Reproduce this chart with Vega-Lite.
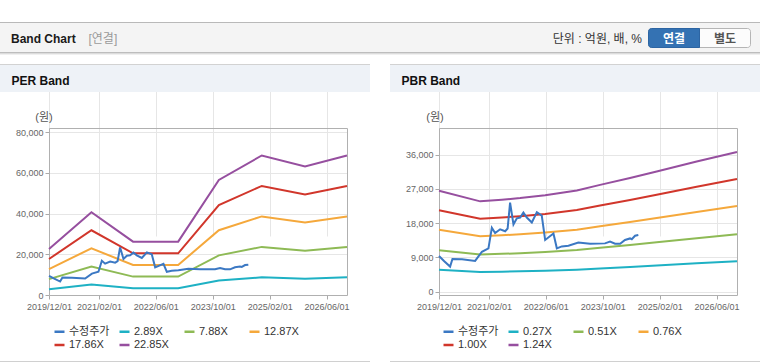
{
  "$schema": "https://vega.github.io/schema/vega-lite/v6.json",
  "width": 760,
  "height": 364,
  "autosize": {"type": "none"},
  "padding": 0,
  "background": "#ffffff",
  "config": {"view": {"stroke": null}, "font": "Liberation Sans, Noto Sans CJK KR"},
  "datasets": {
    "price": [
      {"d": "2019-12-01", "s": "수정주가", "v": 9400},
      {"d": "2020-01-15", "s": "수정주가", "v": 8000},
      {"d": "2020-03-05", "s": "수정주가", "v": 6600},
      {"d": "2020-03-25", "s": "수정주가", "v": 8600},
      {"d": "2020-06-15", "s": "수정주가", "v": 8500},
      {"d": "2020-10-05", "s": "수정주가", "v": 8100},
      {"d": "2020-12-02", "s": "수정주가", "v": 10500},
      {"d": "2021-01-27", "s": "수정주가", "v": 11400},
      {"d": "2021-02-25", "s": "수정주가", "v": 16800},
      {"d": "2021-03-25", "s": "수정주가", "v": 15400},
      {"d": "2021-05-07", "s": "수정주가", "v": 16400},
      {"d": "2021-06-19", "s": "수정주가", "v": 15900},
      {"d": "2021-07-10", "s": "수정주가", "v": 16600},
      {"d": "2021-07-31", "s": "수정주가", "v": 23400},
      {"d": "2021-08-29", "s": "수정주가", "v": 17700},
      {"d": "2021-09-27", "s": "수정주가", "v": 19300},
      {"d": "2021-10-25", "s": "수정주가", "v": 19500},
      {"d": "2021-11-22", "s": "수정주가", "v": 20800},
      {"d": "2021-12-21", "s": "수정주가", "v": 19500},
      {"d": "2022-02-02", "s": "수정주가", "v": 18200},
      {"d": "2022-03-17", "s": "수정주가", "v": 20900},
      {"d": "2022-04-28", "s": "수정주가", "v": 20000},
      {"d": "2022-05-27", "s": "수정주가", "v": 13600},
      {"d": "2022-08-06", "s": "수정주가", "v": 15300},
      {"d": "2022-09-04", "s": "수정주가", "v": 11400},
      {"d": "2022-10-16", "s": "수정주가", "v": 11900},
      {"d": "2022-12-12", "s": "수정주가", "v": 12100},
      {"d": "2023-03-07", "s": "수정주가", "v": 12900},
      {"d": "2023-06-15", "s": "수정주가", "v": 12600},
      {"d": "2023-10-21", "s": "수정주가", "v": 12700},
      {"d": "2023-12-03", "s": "수정주가", "v": 13200},
      {"d": "2024-01-15", "s": "수정주가", "v": 12600},
      {"d": "2024-02-27", "s": "수정주가", "v": 12600},
      {"d": "2024-04-09", "s": "수정주가", "v": 13600},
      {"d": "2024-05-22", "s": "수정주가", "v": 14000},
      {"d": "2024-06-06", "s": "수정주가", "v": 13800},
      {"d": "2024-07-04", "s": "수정주가", "v": 14700},
      {"d": "2024-08-01", "s": "수정주가", "v": 14900}
    ],
    "per": [
      {"d": "2019-12-01", "s": "2.89X", "v": 2861},
      {"d": "2020-11-28", "s": "2.89X", "v": 5144},
      {"d": "2021-11-19", "s": "2.89X", "v": 3312},
      {"d": "2022-12-10", "s": "2.89X", "v": 3312},
      {"d": "2023-11-23", "s": "2.89X", "v": 7144},
      {"d": "2024-11-24", "s": "2.89X", "v": 8664},
      {"d": "2025-11-29", "s": "2.89X", "v": 7982},
      {"d": "2026-11-23", "s": "2.89X", "v": 8664},
      {"d": "2019-12-01", "s": "7.88X", "v": 7801},
      {"d": "2020-11-28", "s": "7.88X", "v": 14026},
      {"d": "2021-11-19", "s": "7.88X", "v": 9030},
      {"d": "2022-12-10", "s": "7.88X", "v": 9030},
      {"d": "2023-11-23", "s": "7.88X", "v": 19479},
      {"d": "2024-11-24", "s": "7.88X", "v": 23624},
      {"d": "2025-11-29", "s": "7.88X", "v": 21765},
      {"d": "2026-11-23", "s": "7.88X", "v": 23624},
      {"d": "2019-12-01", "s": "12.87X", "v": 12741},
      {"d": "2020-11-28", "s": "12.87X", "v": 22909},
      {"d": "2021-11-19", "s": "12.87X", "v": 14749},
      {"d": "2022-12-10", "s": "12.87X", "v": 14749},
      {"d": "2023-11-23", "s": "12.87X", "v": 31815},
      {"d": "2024-11-24", "s": "12.87X", "v": 38584},
      {"d": "2025-11-29", "s": "12.87X", "v": 35547},
      {"d": "2026-11-23", "s": "12.87X", "v": 38584},
      {"d": "2019-12-01", "s": "17.86X", "v": 17681},
      {"d": "2020-11-28", "s": "17.86X", "v": 31791},
      {"d": "2021-11-19", "s": "17.86X", "v": 20468},
      {"d": "2022-12-10", "s": "17.86X", "v": 20468},
      {"d": "2023-11-23", "s": "17.86X", "v": 44150},
      {"d": "2024-11-24", "s": "17.86X", "v": 53544},
      {"d": "2025-11-29", "s": "17.86X", "v": 49329},
      {"d": "2026-11-23", "s": "17.86X", "v": 53544},
      {"d": "2019-12-01", "s": "22.85X", "v": 22622},
      {"d": "2020-11-28", "s": "22.85X", "v": 40673},
      {"d": "2021-11-19", "s": "22.85X", "v": 26186},
      {"d": "2022-12-10", "s": "22.85X", "v": 26186},
      {"d": "2023-11-23", "s": "22.85X", "v": 56485},
      {"d": "2024-11-24", "s": "22.85X", "v": 68504},
      {"d": "2025-11-29", "s": "22.85X", "v": 63112},
      {"d": "2026-11-23", "s": "22.85X", "v": 68504}
    ],
    "pbr": [
      {"d": "2019-12-01", "s": "0.27X", "v": 5778},
      {"d": "2020-11-17", "s": "0.27X", "v": 5171},
      {"d": "2021-05-22", "s": "0.27X", "v": 5265},
      {"d": "2021-10-25", "s": "0.27X", "v": 5360},
      {"d": "2022-05-27", "s": "0.27X", "v": 5522},
      {"d": "2023-02-22", "s": "0.27X", "v": 5792},
      {"d": "2023-09-09", "s": "0.27X", "v": 6116},
      {"d": "2024-05-22", "s": "0.27X", "v": 6507},
      {"d": "2025-01-05", "s": "0.27X", "v": 6885},
      {"d": "2025-12-13", "s": "0.27X", "v": 7452},
      {"d": "2026-11-23", "s": "0.27X", "v": 7992},
      {"d": "2019-12-01", "s": "0.51X", "v": 10914},
      {"d": "2020-11-17", "s": "0.51X", "v": 9767},
      {"d": "2021-05-22", "s": "0.51X", "v": 9945},
      {"d": "2021-10-25", "s": "0.51X", "v": 10124},
      {"d": "2022-05-27", "s": "0.51X", "v": 10430},
      {"d": "2023-02-22", "s": "0.51X", "v": 10940},
      {"d": "2023-09-09", "s": "0.51X", "v": 11552},
      {"d": "2024-05-22", "s": "0.51X", "v": 12291},
      {"d": "2025-01-05", "s": "0.51X", "v": 13005},
      {"d": "2025-12-13", "s": "0.51X", "v": 14076},
      {"d": "2026-11-23", "s": "0.51X", "v": 15096},
      {"d": "2019-12-01", "s": "0.76X", "v": 16264},
      {"d": "2020-11-17", "s": "0.76X", "v": 14554},
      {"d": "2021-05-22", "s": "0.76X", "v": 14820},
      {"d": "2021-10-25", "s": "0.76X", "v": 15086},
      {"d": "2022-05-27", "s": "0.76X", "v": 15542},
      {"d": "2023-02-22", "s": "0.76X", "v": 16302},
      {"d": "2023-09-09", "s": "0.76X", "v": 17214},
      {"d": "2024-05-22", "s": "0.76X", "v": 18316},
      {"d": "2025-01-05", "s": "0.76X", "v": 19380},
      {"d": "2025-12-13", "s": "0.76X", "v": 20976},
      {"d": "2026-11-23", "s": "0.76X", "v": 22496},
      {"d": "2019-12-01", "s": "1.00X", "v": 21400},
      {"d": "2020-11-17", "s": "1.00X", "v": 19150},
      {"d": "2021-05-22", "s": "1.00X", "v": 19500},
      {"d": "2021-10-25", "s": "1.00X", "v": 19850},
      {"d": "2022-05-27", "s": "1.00X", "v": 20450},
      {"d": "2023-02-22", "s": "1.00X", "v": 21450},
      {"d": "2023-09-09", "s": "1.00X", "v": 22650},
      {"d": "2024-05-22", "s": "1.00X", "v": 24100},
      {"d": "2025-01-05", "s": "1.00X", "v": 25500},
      {"d": "2025-12-13", "s": "1.00X", "v": 27600},
      {"d": "2026-11-23", "s": "1.00X", "v": 29600},
      {"d": "2019-12-01", "s": "1.24X", "v": 26536},
      {"d": "2020-11-17", "s": "1.24X", "v": 23746},
      {"d": "2021-05-22", "s": "1.24X", "v": 24180},
      {"d": "2021-10-25", "s": "1.24X", "v": 24614},
      {"d": "2022-05-27", "s": "1.24X", "v": 25358},
      {"d": "2023-02-22", "s": "1.24X", "v": 26598},
      {"d": "2023-09-09", "s": "1.24X", "v": 28086},
      {"d": "2024-05-22", "s": "1.24X", "v": 29884},
      {"d": "2025-01-05", "s": "1.24X", "v": 31620},
      {"d": "2025-12-13", "s": "1.24X", "v": 34224},
      {"d": "2026-11-23", "s": "1.24X", "v": 36704}
    ]
  },
  "layer": [
    {
      "data": {"values": [{}]},
      "layer": [
        {"mark": {"type": "rect", "fill": "#f4f4f4"},
         "encoding": {"x": {"datum": 0, "type": "quantitative", "scale": {"domain": [0, 760], "range": [0, 760], "nice": false, "zero": false}, "axis": null}, "x2": {"datum": 760},
                      "y": {"datum": 22, "type": "quantitative", "scale": {"domain": [0, 364], "range": [0, 364], "nice": false, "zero": false}, "axis": null}, "y2": {"datum": 53}}},
        {"mark": {"type": "rule", "stroke": "#b9b9b9", "strokeWidth": 1},
         "encoding": {"x": {"datum": 0, "type": "quantitative", "scale": {"domain": [0, 760], "range": [0, 760], "nice": false, "zero": false}, "axis": null}, "x2": {"datum": 760},
                      "y": {"datum": 22.5, "type": "quantitative", "scale": {"domain": [0, 364], "range": [0, 364], "nice": false, "zero": false}, "axis": null}}},
        {"mark": {"type": "rule", "stroke": "#bdbdbd", "strokeWidth": 1},
         "encoding": {"x": {"datum": 0, "type": "quantitative", "scale": {"domain": [0, 760], "range": [0, 760], "nice": false, "zero": false}, "axis": null}, "x2": {"datum": 760},
                      "y": {"datum": 52.5, "type": "quantitative", "scale": {"domain": [0, 364], "range": [0, 364], "nice": false, "zero": false}, "axis": null}}},
        {"mark": {"type": "rule", "stroke": "#dcdcdc", "strokeWidth": 1},
         "encoding": {"x": {"datum": 0, "type": "quantitative", "scale": {"domain": [0, 760], "range": [0, 760], "nice": false, "zero": false}, "axis": null}, "x2": {"datum": 760},
                      "y": {"datum": 53.5, "type": "quantitative", "scale": {"domain": [0, 364], "range": [0, 364], "nice": false, "zero": false}, "axis": null}}},
        {"mark": {"type": "rule", "stroke": "#f0f0f0", "strokeWidth": 1},
         "encoding": {"x": {"datum": 0, "type": "quantitative", "scale": {"domain": [0, 760], "range": [0, 760], "nice": false, "zero": false}, "axis": null}, "x2": {"datum": 760},
                      "y": {"datum": 54.5, "type": "quantitative", "scale": {"domain": [0, 364], "range": [0, 364], "nice": false, "zero": false}, "axis": null}}},
        {"mark": {"type": "rect", "fill": "#fcfcfc", "stroke": "#b5b5b5", "strokeWidth": 1, "cornerRadius": 3},
         "encoding": {"x": {"datum": 648.5, "type": "quantitative", "scale": {"domain": [0, 760], "range": [0, 760], "nice": false, "zero": false}, "axis": null}, "x2": {"datum": 750.5},
                      "y": {"datum": 28.5, "type": "quantitative", "scale": {"domain": [0, 364], "range": [0, 364], "nice": false, "zero": false}, "axis": null}, "y2": {"datum": 47.5}}},
        {"mark": {"type": "rect", "fill": "#3472b3", "stroke": "#2d65a3", "strokeWidth": 1, "cornerRadiusTopLeft": 3, "cornerRadiusBottomLeft": 3},
         "encoding": {"x": {"datum": 648.5, "type": "quantitative", "scale": {"domain": [0, 760], "range": [0, 760], "nice": false, "zero": false}, "axis": null}, "x2": {"datum": 699.5},
                      "y": {"datum": 28.5, "type": "quantitative", "scale": {"domain": [0, 364], "range": [0, 364], "nice": false, "zero": false}, "axis": null}, "y2": {"datum": 47.5}}},
        {"mark": {"type": "rect", "fill": "#eef2f7"},
         "encoding": {"x": {"datum": 0, "type": "quantitative", "scale": {"domain": [0, 760], "range": [0, 760], "nice": false, "zero": false}, "axis": null}, "x2": {"datum": 370},
                      "y": {"datum": 64, "type": "quantitative", "scale": {"domain": [0, 364], "range": [0, 364], "nice": false, "zero": false}, "axis": null}, "y2": {"datum": 92}}},
        {"mark": {"type": "rect", "fill": "#eef2f7"},
         "encoding": {"x": {"datum": 390, "type": "quantitative", "scale": {"domain": [0, 760], "range": [0, 760], "nice": false, "zero": false}, "axis": null}, "x2": {"datum": 760},
                      "y": {"datum": 64, "type": "quantitative", "scale": {"domain": [0, 364], "range": [0, 364], "nice": false, "zero": false}, "axis": null}, "y2": {"datum": 92}}},
        {"mark": {"type": "rule", "stroke": "#d2d2d2", "strokeWidth": 1},
         "encoding": {"x": {"datum": 0, "type": "quantitative", "scale": {"domain": [0, 760], "range": [0, 760], "nice": false, "zero": false}, "axis": null}, "x2": {"datum": 370},
                      "y": {"datum": 64.5, "type": "quantitative", "scale": {"domain": [0, 364], "range": [0, 364], "nice": false, "zero": false}, "axis": null}}},
        {"mark": {"type": "rule", "stroke": "#d2d2d2", "strokeWidth": 1},
         "encoding": {"x": {"datum": 390, "type": "quantitative", "scale": {"domain": [0, 760], "range": [0, 760], "nice": false, "zero": false}, "axis": null}, "x2": {"datum": 760},
                      "y": {"datum": 64.5, "type": "quantitative", "scale": {"domain": [0, 364], "range": [0, 364], "nice": false, "zero": false}, "axis": null}}},
        {"mark": {"type": "rule", "stroke": "#d0d0d0", "strokeWidth": 1},
         "encoding": {"x": {"datum": 0, "type": "quantitative", "scale": {"domain": [0, 760], "range": [0, 760], "nice": false, "zero": false}, "axis": null}, "x2": {"datum": 370},
                      "y": {"datum": 361.5, "type": "quantitative", "scale": {"domain": [0, 364], "range": [0, 364], "nice": false, "zero": false}, "axis": null}}},
        {"mark": {"type": "rule", "stroke": "#d0d0d0", "strokeWidth": 1},
         "encoding": {"x": {"datum": 390, "type": "quantitative", "scale": {"domain": [0, 760], "range": [0, 760], "nice": false, "zero": false}, "axis": null}, "x2": {"datum": 760},
                      "y": {"datum": 361.5, "type": "quantitative", "scale": {"domain": [0, 364], "range": [0, 364], "nice": false, "zero": false}, "axis": null}}},
        {"mark": {"type": "rect", "filled": false, "stroke": "#b0b0b0", "strokeWidth": 1},
         "encoding": {"x": {"datum": 49.5, "type": "quantitative", "scale": {"domain": [0, 760], "range": [0, 760], "nice": false, "zero": false}, "axis": null}, "x2": {"datum": 347.5},
                      "y": {"datum": 128.5, "type": "quantitative", "scale": {"domain": [0, 364], "range": [0, 364], "nice": false, "zero": false}, "axis": null}, "y2": {"datum": 295.5}}},
        {"mark": {"type": "rect", "filled": false, "stroke": "#b0b0b0", "strokeWidth": 1},
         "encoding": {"x": {"datum": 439.5, "type": "quantitative", "scale": {"domain": [0, 760], "range": [0, 760], "nice": false, "zero": false}, "axis": null}, "x2": {"datum": 737.5},
                      "y": {"datum": 128.5, "type": "quantitative", "scale": {"domain": [0, 364], "range": [0, 364], "nice": false, "zero": false}, "axis": null}, "y2": {"datum": 295.5}}},
        {"data": {"values": [{"t": "Band Chart"}]},
         "mark": {"type": "text", "align": "left", "baseline": "alphabetic", "fontSize": 12, "fontWeight": "bold", "color": "#1a1a1a"},
         "encoding": {"text": {"field": "t"}, "x": {"datum": 11, "type": "quantitative", "scale": {"domain": [0, 760], "range": [0, 760], "nice": false, "zero": false}, "axis": null},
                      "y": {"datum": 42.5, "type": "quantitative", "scale": {"domain": [0, 364], "range": [0, 364], "nice": false, "zero": false}, "axis": null}}},
        {"data": {"values": [{"t": "[연결]"}]},
         "mark": {"type": "text", "align": "left", "baseline": "alphabetic", "fontSize": 12, "color": "#9a9a9a"},
         "encoding": {"text": {"field": "t"}, "x": {"datum": 88.5, "type": "quantitative", "scale": {"domain": [0, 760], "range": [0, 760], "nice": false, "zero": false}, "axis": null},
                      "y": {"datum": 42.5, "type": "quantitative", "scale": {"domain": [0, 364], "range": [0, 364], "nice": false, "zero": false}, "axis": null}}},
        {"data": {"values": [{"t": "단위 : 억원, 배, %"}]},
         "mark": {"type": "text", "align": "right", "baseline": "alphabetic", "fontSize": 12, "color": "#333333"},
         "encoding": {"text": {"field": "t"}, "x": {"datum": 642, "type": "quantitative", "scale": {"domain": [0, 760], "range": [0, 760], "nice": false, "zero": false}, "axis": null},
                      "y": {"datum": 43, "type": "quantitative", "scale": {"domain": [0, 364], "range": [0, 364], "nice": false, "zero": false}, "axis": null}}},
        {"data": {"values": [{"t": "연결"}]},
         "mark": {"type": "text", "align": "center", "baseline": "alphabetic", "fontSize": 12, "fontWeight": "bold", "color": "#ffffff"},
         "encoding": {"text": {"field": "t"}, "x": {"datum": 674, "type": "quantitative", "scale": {"domain": [0, 760], "range": [0, 760], "nice": false, "zero": false}, "axis": null},
                      "y": {"datum": 42.5, "type": "quantitative", "scale": {"domain": [0, 364], "range": [0, 364], "nice": false, "zero": false}, "axis": null}}},
        {"data": {"values": [{"t": "별도"}]},
         "mark": {"type": "text", "align": "center", "baseline": "alphabetic", "fontSize": 12, "fontWeight": "bold", "color": "#555555"},
         "encoding": {"text": {"field": "t"}, "x": {"datum": 725, "type": "quantitative", "scale": {"domain": [0, 760], "range": [0, 760], "nice": false, "zero": false}, "axis": null},
                      "y": {"datum": 42.5, "type": "quantitative", "scale": {"domain": [0, 364], "range": [0, 364], "nice": false, "zero": false}, "axis": null}}},
        {"data": {"values": [{"t": "PER Band"}]},
         "mark": {"type": "text", "align": "left", "baseline": "alphabetic", "fontSize": 12, "fontWeight": "bold", "color": "#111111"},
         "encoding": {"text": {"field": "t"}, "x": {"datum": 11.5, "type": "quantitative", "scale": {"domain": [0, 760], "range": [0, 760], "nice": false, "zero": false}, "axis": null},
                      "y": {"datum": 85, "type": "quantitative", "scale": {"domain": [0, 364], "range": [0, 364], "nice": false, "zero": false}, "axis": null}}},
        {"data": {"values": [{"t": "PBR Band"}]},
         "mark": {"type": "text", "align": "left", "baseline": "alphabetic", "fontSize": 12, "fontWeight": "bold", "color": "#111111"},
         "encoding": {"text": {"field": "t"}, "x": {"datum": 401.5, "type": "quantitative", "scale": {"domain": [0, 760], "range": [0, 760], "nice": false, "zero": false}, "axis": null},
                      "y": {"datum": 85, "type": "quantitative", "scale": {"domain": [0, 364], "range": [0, 364], "nice": false, "zero": false}, "axis": null}}},
        {"data": {"values": [{"t": "(원)"}]},
         "mark": {"type": "text", "align": "center", "baseline": "alphabetic", "fontSize": 11, "color": "#555555"},
         "encoding": {"text": {"field": "t"}, "x": {"datum": 44, "type": "quantitative", "scale": {"domain": [0, 760], "range": [0, 760], "nice": false, "zero": false}, "axis": null},
                      "y": {"datum": 121, "type": "quantitative", "scale": {"domain": [0, 364], "range": [0, 364], "nice": false, "zero": false}, "axis": null}}},
        {"data": {"values": [{"t": "(원)"}]},
         "mark": {"type": "text", "align": "center", "baseline": "alphabetic", "fontSize": 11, "color": "#555555"},
         "encoding": {"text": {"field": "t"}, "x": {"datum": 435, "type": "quantitative", "scale": {"domain": [0, 760], "range": [0, 760], "nice": false, "zero": false}, "axis": null},
                      "y": {"datum": 121, "type": "quantitative", "scale": {"domain": [0, 364], "range": [0, 364], "nice": false, "zero": false}, "axis": null}}}
      ]
    },
    {
      "encoding": {
        "x": {"field": "d", "type": "temporal",
              "scale": {"type": "utc", "domain": [{"year": 2019, "month": 12, "date": 1, "utc": true}, {"year": 2026, "month": 11, "date": 23, "utc": true}], "range": [49, 347]},
              "axis": {"orient": "bottom", "offset": -69, "title": null, "format": "%Y/%m/%d",
                       "values": [{"year": 2019, "month": 12, "date": 1, "utc": true}, {"year": 2021, "month": 2, "date": 1, "utc": true}, {"year": 2022, "month": 6, "date": 1, "utc": true}, {"year": 2023, "month": 10, "date": 1, "utc": true}, {"year": 2025, "month": 2, "date": 1, "utc": true}, {"year": 2026, "month": 6, "date": 1, "utc": true}],
                       "domain": false, "grid": true, "gridColor": "#e6e6e6", "tickColor": "#aaaaaa", "tickSize": 4, "labelPadding": 3,
                       "labelFont": "Liberation Sans", "labelFontSize": 9, "labelColor": "#666666", "labelOverlap": false, "labelFlush": false}},
        "y": {"field": "v", "type": "quantitative",
              "scale": {"domain": [0, 82000], "range": [295, 128], "nice": false, "zero": false},
              "axis": {"orient": "left", "offset": -49, "title": null, "format": ",d", "values": [0, 20000, 40000, 60000, 80000],
                       "domain": false, "grid": true, "gridColor": "#e6e6e6", "tickColor": "#aaaaaa", "tickSize": 4, "labelPadding": 2,
                       "labelFont": "Liberation Sans", "labelFontSize": 9, "labelColor": "#666666"}},
        "color": {"field": "s", "type": "nominal",
                  "scale": {"domain": ["수정주가", "2.89X", "7.88X", "12.87X", "17.86X", "22.85X"], "range": ["#3b78c3", "#1eb1c4", "#8eba55", "#f5a83b", "#d1362b", "#964f9f"]},
                  "legend": {"orient": "none", "legendX": 53, "legendY": 325, "direction": "horizontal", "columns": 4, "gridAlign": "all", "columnPadding": 4, "rowPadding": 1.5,
                             "title": null, "padding": 0, "symbolType": "stroke", "symbolSize": 100, "symbolStrokeWidth": 2.5, "labelOffset": 3,
                             "labelFont": "Liberation Sans, Noto Sans CJK KR", "labelFontSize": 11, "labelColor": "#333333", "labelLimit": 200}}
      },
      "layer": [
        {"data": {"name": "per"}, "mark": {"type": "line", "strokeWidth": 2}},
        {"data": {"name": "price"}, "mark": {"type": "line", "strokeWidth": 2}}
      ]
    },
    {
      "encoding": {
        "x": {"field": "d", "type": "temporal",
              "scale": {"type": "utc", "domain": [{"year": 2019, "month": 12, "date": 1, "utc": true}, {"year": 2026, "month": 11, "date": 23, "utc": true}], "range": [439, 737]},
              "axis": {"orient": "bottom", "offset": -69, "title": null, "format": "%Y/%m/%d",
                       "values": [{"year": 2019, "month": 12, "date": 1, "utc": true}, {"year": 2021, "month": 2, "date": 1, "utc": true}, {"year": 2022, "month": 6, "date": 1, "utc": true}, {"year": 2023, "month": 10, "date": 1, "utc": true}, {"year": 2025, "month": 2, "date": 1, "utc": true}, {"year": 2026, "month": 6, "date": 1, "utc": true}],
                       "domain": false, "grid": true, "gridColor": "#e6e6e6", "tickColor": "#aaaaaa", "tickSize": 4, "labelPadding": 3,
                       "labelFont": "Liberation Sans", "labelFontSize": 9, "labelColor": "#666666", "labelOverlap": false, "labelFlush": false}},
        "y": {"field": "v", "type": "quantitative",
              "scale": {"domain": [-870, 43030], "range": [295, 128], "nice": false, "zero": false},
              "axis": {"orient": "left", "offset": -439, "title": null, "format": ",d", "values": [0, 9000, 18000, 27000, 36000],
                       "domain": false, "grid": true, "gridColor": "#e6e6e6", "tickColor": "#aaaaaa", "tickSize": 4, "labelPadding": 2,
                       "labelFont": "Liberation Sans", "labelFontSize": 9, "labelColor": "#666666"}},
        "color": {"field": "s", "type": "nominal",
                  "scale": {"domain": ["수정주가", "0.27X", "0.51X", "0.76X", "1.00X", "1.24X"], "range": ["#3b78c3", "#1eb1c4", "#8eba55", "#f5a83b", "#d1362b", "#964f9f"]},
                  "legend": {"orient": "none", "legendX": 442, "legendY": 325, "direction": "horizontal", "columns": 4, "gridAlign": "all", "columnPadding": 4, "rowPadding": 1.5,
                             "title": null, "padding": 0, "symbolType": "stroke", "symbolSize": 100, "symbolStrokeWidth": 2.5, "labelOffset": 3,
                             "labelFont": "Liberation Sans, Noto Sans CJK KR", "labelFontSize": 11, "labelColor": "#333333", "labelLimit": 200}}
      },
      "layer": [
        {"data": {"name": "pbr"}, "mark": {"type": "line", "strokeWidth": 2}},
        {"data": {"name": "price"}, "mark": {"type": "line", "strokeWidth": 2}}
      ]
    }
  ],
  "resolve": {"scale": {"x": "independent", "y": "independent", "color": "independent"}}
}
